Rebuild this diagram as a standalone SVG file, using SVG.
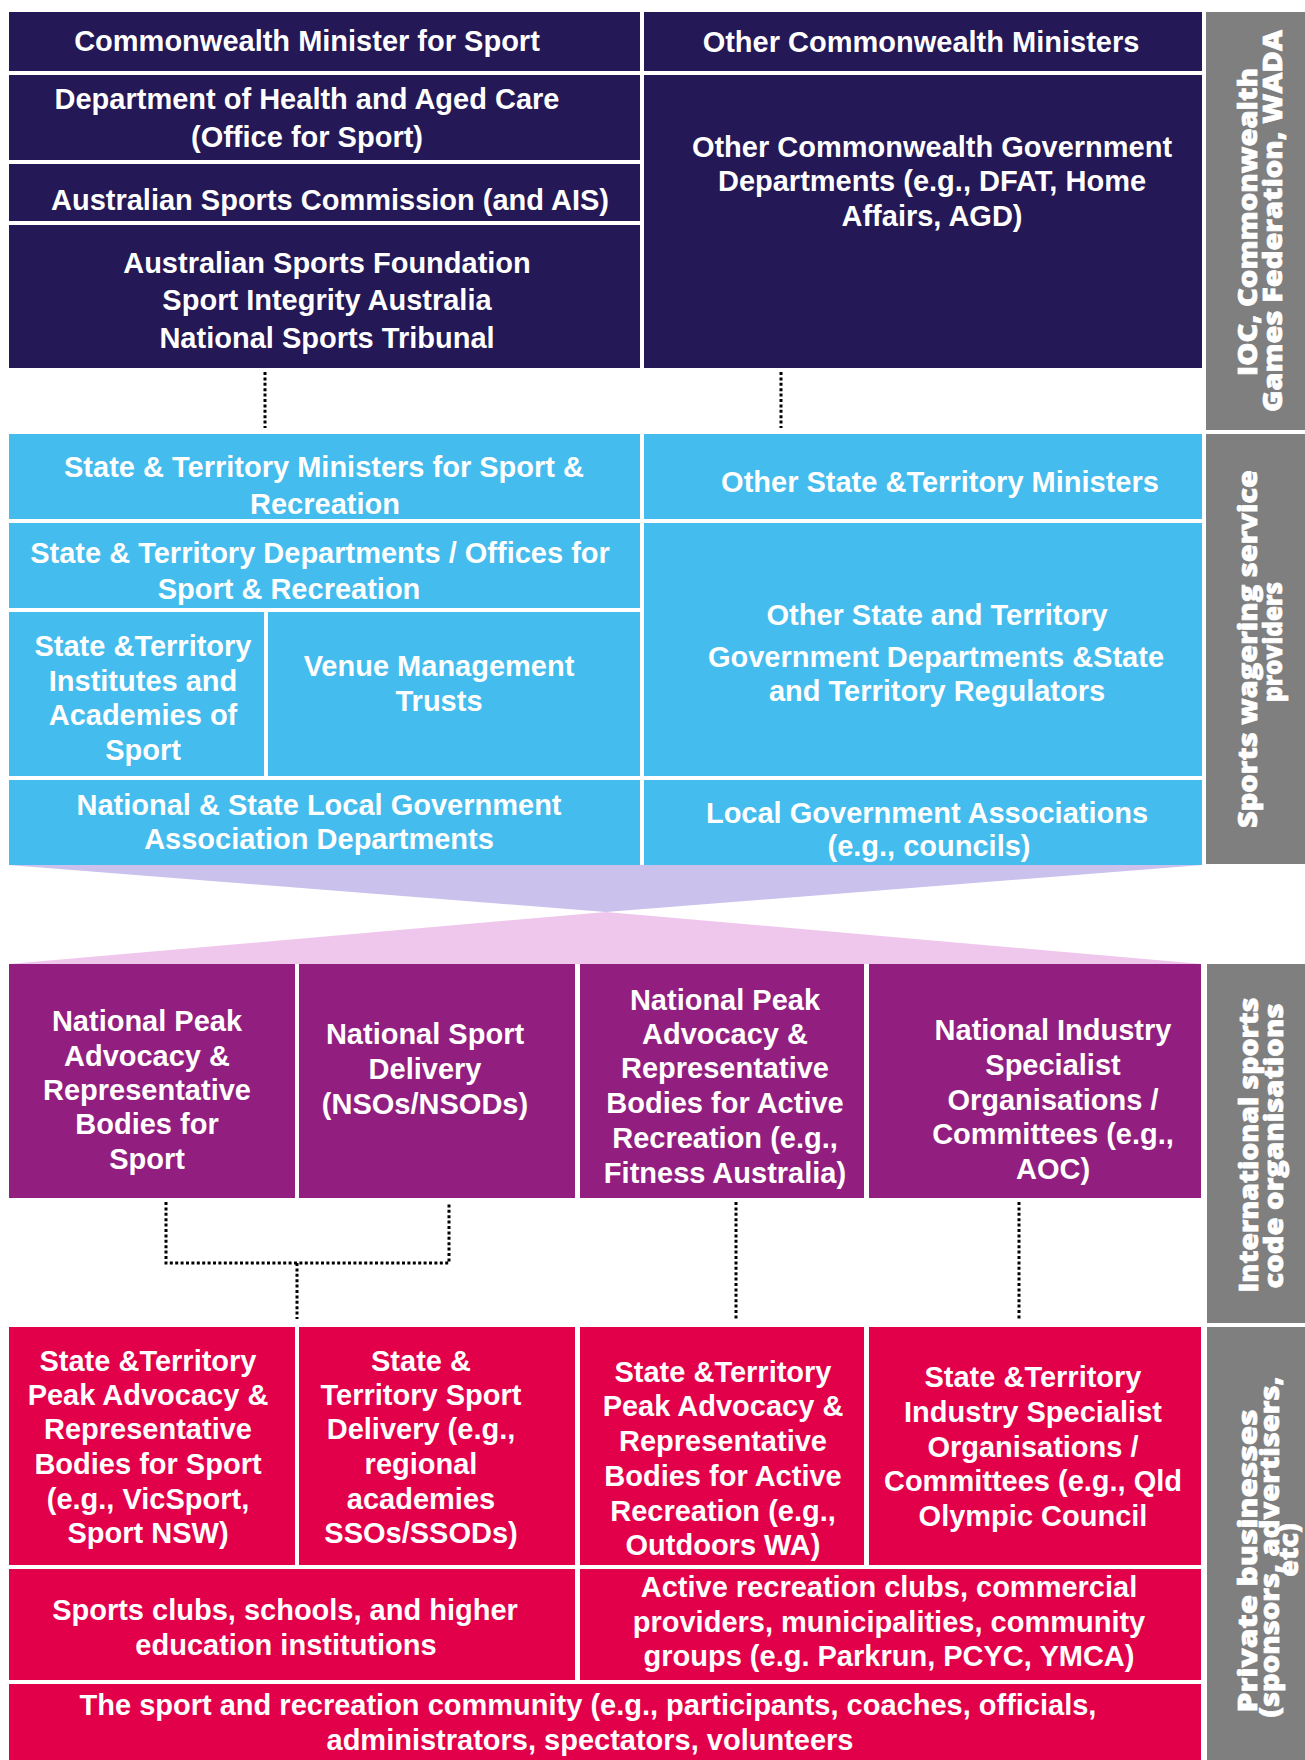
<svg xmlns="http://www.w3.org/2000/svg" width="1305" height="1760" viewBox="0 0 1305 1760">
  <style>
    .navy{fill:#241856}
    .sky{fill:#44BCEE}
    .plum{fill:#921F7F}
    .crim{fill:#E3004B}
    .grey{fill:#7F7F7F}
    .t{font-family:"Liberation Sans",Arial,sans-serif;font-weight:700;font-size:29px;fill:#fff;text-anchor:middle}
    .side{font-family:"Open Sans","DejaVu Sans",sans-serif;font-weight:800;font-size:27px;fill:#fff;stroke:#fff;stroke-width:0.7;text-anchor:middle}
    .dot{stroke:#000;stroke-width:3;stroke-dasharray:3 2.4;fill:none}
  </style>
  <rect width="1305" height="1760" fill="#fff"/>

  <!-- Commonwealth level -->
  <g id="cw-minister">
    <rect class="navy" x="9" y="12" width="631" height="59"/>
    <text class="t" x="307" y="51">Commonwealth Minister for Sport</text>
  </g>
  <g id="cw-health">
    <rect class="navy" x="9" y="75" width="631" height="85"/>
    <text class="t"><tspan x="307" y="109">Department of Health and Aged Care</tspan><tspan x="307" y="147">(Office for Sport)</tspan></text>
  </g>
  <g id="cw-asc">
    <rect class="navy" x="9" y="164" width="631" height="57"/>
    <text class="t" x="330" y="210">Australian Sports Commission (and AIS)</text>
  </g>
  <g id="cw-agencies">
    <rect class="navy" x="9" y="225" width="631" height="143"/>
    <text class="t"><tspan x="327" y="273">Australian Sports Foundation</tspan><tspan x="327" y="310">Sport Integrity Australia</tspan><tspan x="327" y="348">National Sports Tribunal</tspan></text>
  </g>
  <g id="cw-other-ministers">
    <rect class="navy" x="644" y="12" width="558" height="59"/>
    <text class="t" x="921" y="52">Other Commonwealth Ministers</text>
  </g>
  <g id="cw-other-depts">
    <rect class="navy" x="644" y="75" width="558" height="293"/>
    <text class="t"><tspan x="932" y="157">Other Commonwealth Government</tspan><tspan x="932" y="191">Departments (e.g., DFAT, Home</tspan><tspan x="932" y="226">Affairs, AGD)</tspan></text>
  </g>

  <!-- State and territory level -->
  <g id="st-ministers">
    <rect class="sky" x="9" y="434" width="631" height="85"/>
    <text class="t"><tspan x="324" y="477">State &amp; Territory Ministers for Sport &amp;</tspan><tspan x="325" y="514">Recreation</tspan></text>
  </g>
  <g id="st-departments">
    <rect class="sky" x="9" y="523" width="631" height="85"/>
    <text class="t"><tspan x="320" y="563">State &amp; Territory Departments / Offices for</tspan><tspan x="289" y="599">Sport &amp; Recreation</tspan></text>
  </g>
  <g id="st-institutes">
    <rect class="sky" x="9" y="612" width="255" height="164"/>
    <text class="t"><tspan x="143" y="656">State &amp;Territory</tspan><tspan x="143" y="691">Institutes and</tspan><tspan x="143" y="725">Academies of</tspan><tspan x="143" y="760">Sport</tspan></text>
  </g>
  <g id="st-venues">
    <rect class="sky" x="268" y="612" width="372" height="164"/>
    <text class="t"><tspan x="439" y="676">Venue Management</tspan><tspan x="439" y="711">Trusts</tspan></text>
  </g>
  <g id="st-lga-depts">
    <rect class="sky" x="9" y="780" width="631" height="85"/>
    <text class="t"><tspan x="319" y="815">National &amp; State Local Government</tspan><tspan x="319" y="849">Association Departments</tspan></text>
  </g>
  <g id="st-other-ministers">
    <rect class="sky" x="644" y="434" width="558" height="85"/>
    <text class="t" x="940" y="492">Other State &amp;Territory Ministers</text>
  </g>
  <g id="st-other-depts">
    <rect class="sky" x="644" y="523" width="558" height="253"/>
    <text class="t"><tspan x="937" y="625">Other State and Territory</tspan><tspan x="936" y="667">Government Departments &amp;State</tspan><tspan x="937" y="701">and Territory Regulators</tspan></text>
  </g>
  <g id="st-lga">
    <rect class="sky" x="644" y="780" width="558" height="85"/>
    <text class="t"><tspan x="927" y="823">Local Government Associations</tspan><tspan x="929" y="856">(e.g., councils)</tspan></text>
  </g>

  <!-- Funnel between government and sector -->
  <g id="funnel">
    <polygon points="9,865 1202,865 606,912" fill="#CAC1EC"/>
    <polygon points="606,912 9,964 1202,964" fill="#F0C7EC"/>
  </g>

  <!-- National bodies -->
  <g id="nat-peak-sport">
    <rect class="plum" x="9" y="964" width="286" height="234"/>
    <text class="t"><tspan x="147" y="1031">National Peak</tspan><tspan x="147" y="1066">Advocacy &amp;</tspan><tspan x="147" y="1100">Representative</tspan><tspan x="147" y="1134">Bodies for</tspan><tspan x="147" y="1169">Sport</tspan></text>
  </g>
  <g id="nat-sport-delivery">
    <rect class="plum" x="299" y="964" width="276" height="234"/>
    <text class="t"><tspan x="425" y="1044">National Sport</tspan><tspan x="425" y="1079">Delivery</tspan><tspan x="425" y="1114">(NSOs/NSODs)</tspan></text>
  </g>
  <g id="nat-peak-recreation">
    <rect class="plum" x="580" y="964" width="284" height="234"/>
    <text class="t"><tspan x="725" y="1010">National Peak</tspan><tspan x="725" y="1044">Advocacy &amp;</tspan><tspan x="725" y="1078">Representative</tspan><tspan x="725" y="1113">Bodies for Active</tspan><tspan x="725" y="1148">Recreation (e.g.,</tspan><tspan x="725" y="1183">Fitness Australia)</tspan></text>
  </g>
  <g id="nat-industry">
    <rect class="plum" x="869" y="964" width="332" height="234"/>
    <text class="t"><tspan x="1053" y="1040">National Industry</tspan><tspan x="1053" y="1075">Specialist</tspan><tspan x="1053" y="1110">Organisations /</tspan><tspan x="1053" y="1144">Committees (e.g.,</tspan><tspan x="1053" y="1179">AOC)</tspan></text>
  </g>

  <!-- State bodies and community -->
  <g id="sta-peak-sport">
    <rect class="crim" x="9" y="1327" width="286" height="238"/>
    <text class="t"><tspan x="148" y="1371">State &amp;Territory</tspan><tspan x="148" y="1405">Peak Advocacy &amp;</tspan><tspan x="148" y="1439">Representative</tspan><tspan x="148" y="1474">Bodies for Sport</tspan><tspan x="148" y="1509">(e.g., VicSport,</tspan><tspan x="148" y="1543">Sport NSW)</tspan></text>
  </g>
  <g id="sta-sport-delivery">
    <rect class="crim" x="299" y="1327" width="276" height="238"/>
    <text class="t"><tspan x="421" y="1371">State &amp;</tspan><tspan x="421" y="1405">Territory Sport</tspan><tspan x="421" y="1439">Delivery (e.g.,</tspan><tspan x="421" y="1474">regional</tspan><tspan x="421" y="1509">academies</tspan><tspan x="421" y="1543">SSOs/SSODs)</tspan></text>
  </g>
  <g id="sta-peak-recreation">
    <rect class="crim" x="580" y="1327" width="284" height="238"/>
    <text class="t"><tspan x="723" y="1382">State &amp;Territory</tspan><tspan x="723" y="1416">Peak Advocacy &amp;</tspan><tspan x="723" y="1451">Representative</tspan><tspan x="723" y="1486">Bodies for Active</tspan><tspan x="723" y="1521">Recreation (e.g.,</tspan><tspan x="723" y="1555">Outdoors WA)</tspan></text>
  </g>
  <g id="sta-industry">
    <rect class="crim" x="869" y="1327" width="332" height="238"/>
    <text class="t"><tspan x="1033" y="1387">State &amp;Territory</tspan><tspan x="1033" y="1422">Industry Specialist</tspan><tspan x="1033" y="1457">Organisations /</tspan><tspan x="1033" y="1491">Committees (e.g., Qld</tspan><tspan x="1033" y="1526">Olympic Council</tspan></text>
  </g>
  <g id="clubs-schools">
    <rect class="crim" x="9" y="1569" width="566" height="111"/>
    <text class="t"><tspan x="285" y="1620">Sports clubs, schools, and higher</tspan><tspan x="286" y="1655">education institutions</tspan></text>
  </g>
  <g id="active-recreation">
    <rect class="crim" x="580" y="1569" width="621" height="111"/>
    <text class="t"><tspan x="889" y="1597">Active recreation clubs, commercial</tspan><tspan x="889" y="1632">providers, municipalities, community</tspan><tspan x="889" y="1666">groups (e.g. Parkrun, PCYC, YMCA)</tspan></text>
  </g>
  <g id="community">
    <rect class="crim" x="9" y="1684" width="1192" height="76"/>
    <text class="t"><tspan x="588" y="1715">The sport and recreation community (e.g., participants, coaches, officials,</tspan><tspan x="590" y="1750">administrators, spectators, volunteers</tspan></text>
  </g>

  <!-- Side column of outside stakeholders -->
  <g id="side-international">
    <rect class="grey" x="1206" y="12" width="99" height="418"/>
    <text class="side" transform="translate(1257 222) rotate(-90)" textLength="308" lengthAdjust="spacingAndGlyphs">IOC, Commonwealth</text>
    <text class="side" transform="translate(1282 221) rotate(-90)" textLength="382" lengthAdjust="spacingAndGlyphs">Games Federation, WADA</text>
  </g>
  <g id="side-wagering">
    <rect class="grey" x="1206" y="434" width="99" height="430"/>
    <text class="side" transform="translate(1257 649) rotate(-90)" textLength="358" lengthAdjust="spacingAndGlyphs">Sports wagering service</text>
    <text class="side" transform="translate(1282 642) rotate(-90)" textLength="120" lengthAdjust="spacingAndGlyphs">providers</text>
  </g>
  <g id="side-codes">
    <rect class="grey" x="1207" y="964" width="98" height="359"/>
    <text class="side" transform="translate(1258 1145) rotate(-90)" textLength="295" lengthAdjust="spacingAndGlyphs">International sports</text>
    <text class="side" transform="translate(1283 1146) rotate(-90)" textLength="285" lengthAdjust="spacingAndGlyphs">code organisations</text>
  </g>
  <g id="side-private">
    <rect class="grey" x="1207" y="1327" width="98" height="433"/>
    <text class="side" transform="translate(1257 1561) rotate(-90)" textLength="303" lengthAdjust="spacingAndGlyphs">Private businesses</text>
    <text class="side" transform="translate(1279 1547) rotate(-90)" textLength="341" lengthAdjust="spacingAndGlyphs">(sponsors, advertisers,</text>
    <text class="side" transform="translate(1298 1550) rotate(-90)">etc)</text>
  </g>

  <!-- Dotted links between levels -->
  <g id="connectors">
    <line class="dot" x1="265" y1="372" x2="265" y2="428"/>
    <line class="dot" x1="781" y1="372" x2="781" y2="428"/>
    <polyline class="dot" points="166,1202 166,1263 449,1263 449,1202"/>
    <line class="dot" x1="297" y1="1263" x2="297" y2="1319"/>
    <line class="dot" x1="736" y1="1202" x2="736" y2="1319"/>
    <line class="dot" x1="1019" y1="1202" x2="1019" y2="1319"/>
  </g>
</svg>
